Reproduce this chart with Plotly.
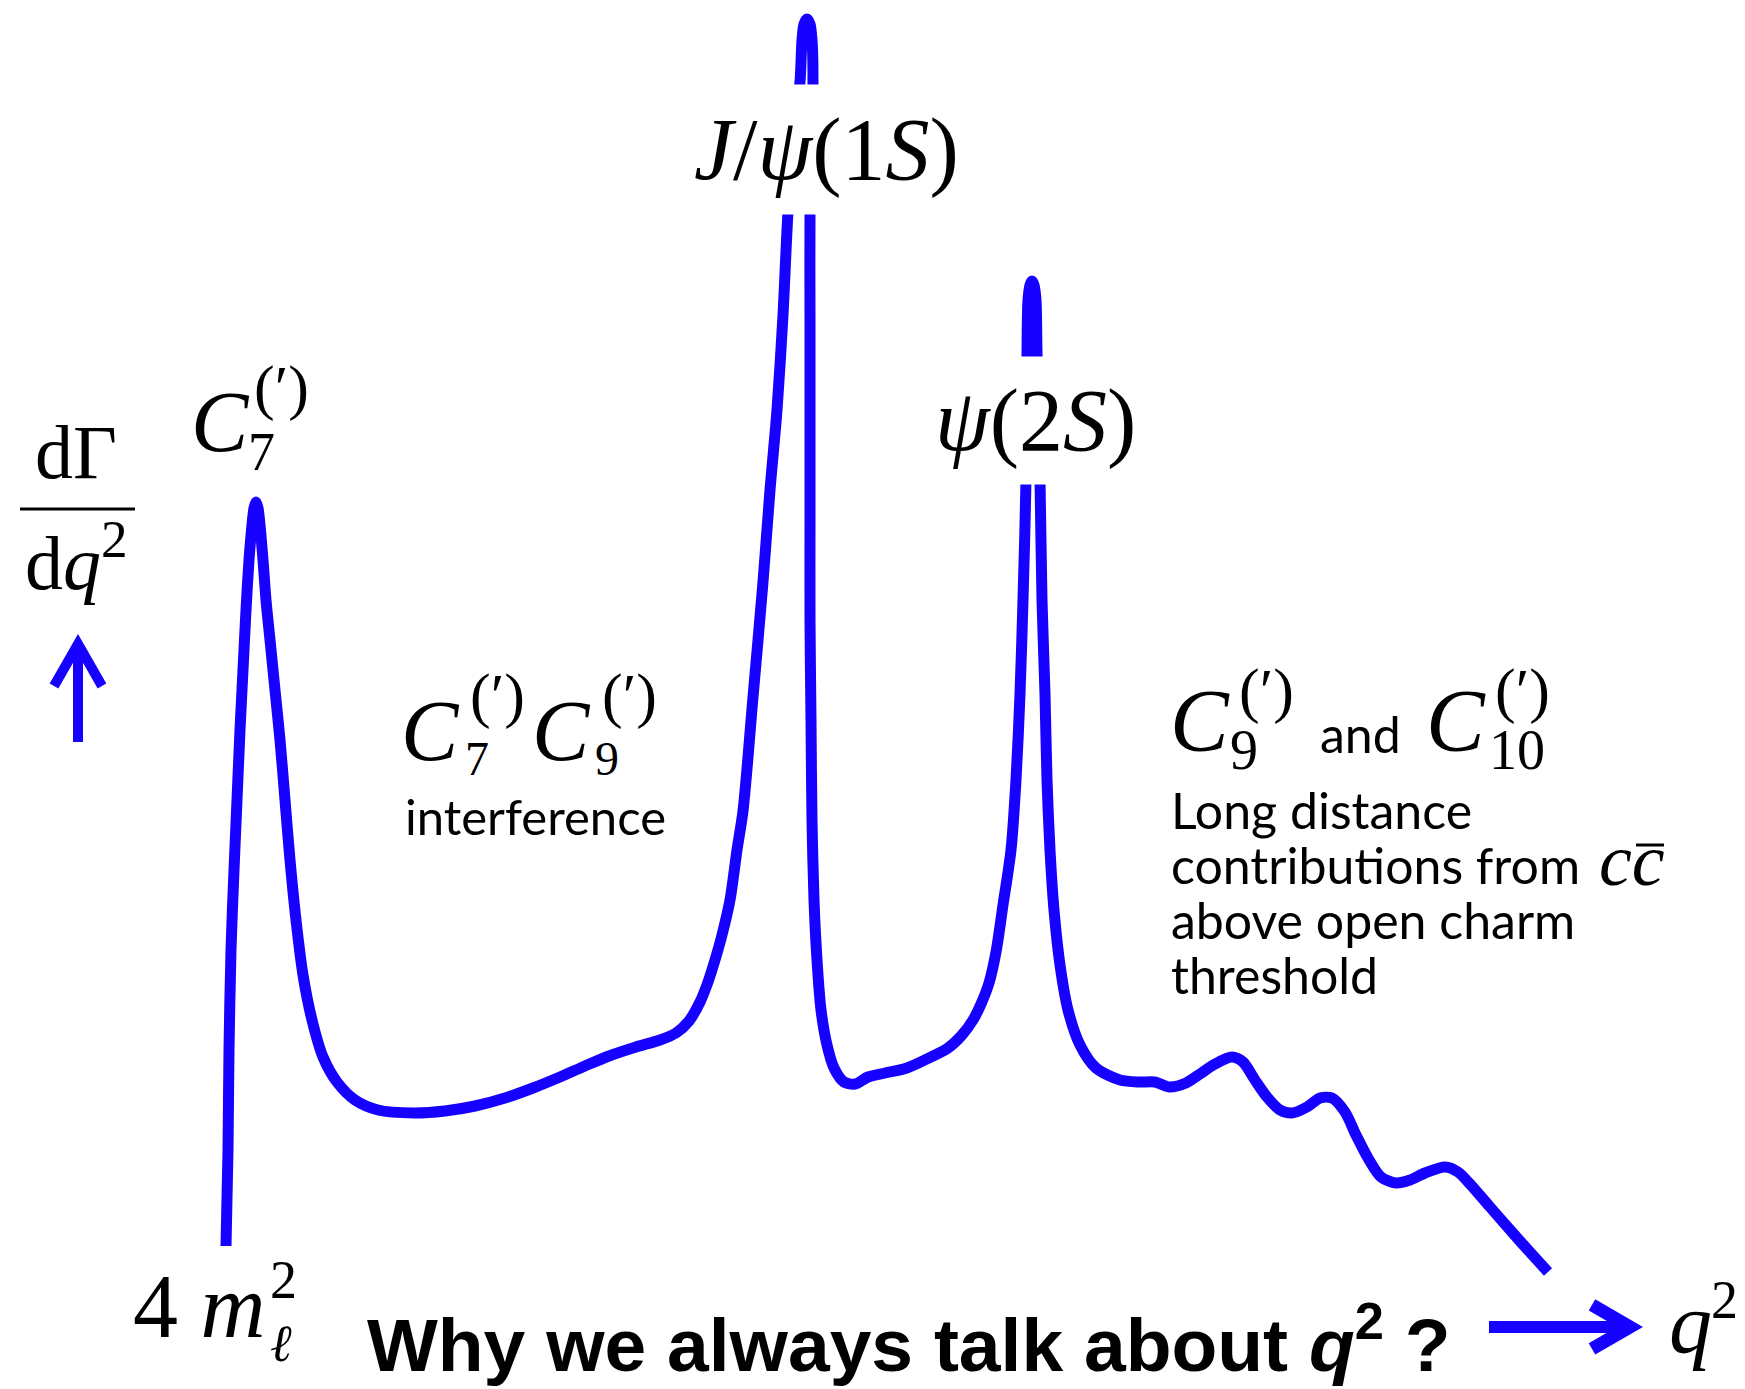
import plotly.graph_objects as go

W, H = 1745, 1389
BLUE = "rgb(22,0,255)"
SERIF = "Liberation Serif"
SANS = "Lato"

# schematic spectrum dGamma/dq2 (arbitrary units)
q2 = [226, 228, 229, 231, 234, 237, 240, 243, 246, 249,
      252, 254, 256, 258, 260, 263, 266, 270, 275, 280,
      285, 290, 296, 303, 312, 323, 337, 355, 378, 414,
      445, 475, 505, 533, 560, 585, 609, 636, 660, 676,
      689, 700, 708, 715, 722, 730, 737, 743, 753, 763,
      770, 777, 783, 788, 795, 800, 802, 804, 807, 810,
      812, 813, 812, 810, 810, 810, 810, 810, 811, 812,
      814, 817, 821, 827, 834, 844, 855, 868, 885, 907,
      929, 948, 962, 973, 981, 989, 996, 1003, 1011, 1016,
      1020, 1023, 1026, 1027, 1028, 1030, 1032, 1034, 1036, 1037,
      1040, 1042, 1045, 1047, 1050, 1054, 1060, 1068, 1080, 1096,
      1120, 1140, 1155, 1169, 1186, 1200, 1215, 1232, 1243, 1255,
      1267, 1280, 1292, 1307, 1320, 1332, 1345, 1356, 1368, 1381,
      1396, 1410, 1425, 1445, 1458, 1470, 1490, 1519, 1548]
rate = [143, 239, 339, 439, 519, 589, 659, 719, 779, 829,
        864, 881, 887, 881, 864, 829, 789, 749, 699, 649,
        589, 529, 469, 414, 369, 332, 307, 289, 279, 276,
        278, 283, 291, 301, 312, 323, 333, 342, 349, 356,
        368, 387, 407, 429, 454, 489, 539, 578, 692, 807,
        899, 979, 1074, 1177, 1269, 1307, 1349, 1365, 1370, 1365,
        1349, 1307, 1269, 1177, 1069, 969, 869, 769, 669, 569,
        489, 429, 379, 344, 321, 307, 305, 312, 316, 321,
        331, 341, 354, 369, 385, 406, 437, 484, 539, 609,
        695, 789, 909, 1037, 1089, 1104, 1108, 1104, 1089, 1037,
        909, 789, 695, 609, 539, 479, 424, 379, 344, 321,
        309, 307, 307, 302, 306, 315, 325, 332, 327, 309,
        292, 279, 276, 282, 291, 291, 277, 254, 231, 212,
        206, 209, 216, 222, 217, 205, 182, 149, 117]

fig = go.Figure()
fig.add_trace(go.Scatter(x=q2, y=rate, mode="lines",
                         line=dict(color=BLUE, width=11, shape="spline", smoothing=0.8),
                         hoverinfo="skip", showlegend=False))


def P(x, y):
    return x / W, 1 - y / H


anns = []


def ann(text, x, y, size, family=SERIF, xanchor="center", yanchor="middle",
        bg=None, pad=0, color="black"):
    px, py = P(x, y)
    d = dict(text=text, x=px, y=py, xref="paper", yref="paper", showarrow=False,
             xanchor=xanchor, yanchor=yanchor,
             font=dict(family=family, size=size, color=color), borderpad=pad)
    if bg:
        d["bgcolor"] = bg
    anns.append(d)


# y-axis label dGamma/dq2
ann("dΓ", 76, 452, 76)
ann("d<i>q</i><sup>2</sup>", 76, 558, 76)

# C7 label near first peak
ann("<i>C</i>", 220, 422, 86)
ann("7", 261, 452, 54)
ann("(′)", 281, 388, 62)

# resonance labels with white background hiding the curve
ann("<i>J</i>/<i>ψ</i>(1<i>S</i>)", 826, 149, 88, bg="white", pad=16)
ann("<i>ψ</i>(2<i>S</i>)", 1035, 421, 88, bg="white", pad=15)

# C7 C9 interference
ann("<i>C</i>", 430, 731, 86)
ann("7", 477, 758, 48)
ann("(′)", 498, 696, 62)
ann("<i>C</i>", 561, 731, 86)
ann("9", 607, 758, 48)
ann("(′)", 629, 696, 62)
ann("interference", 535, 816, 49, family=SANS)

# C9 and C10
ann("<i>C</i>", 1200, 720, 88)
ann("9", 1244, 750, 56)
ann("(′)", 1266, 690, 62)
ann("and", 1360, 734, 50, family=SANS)
ann("<i>C</i>", 1456, 720, 88)
ann("10", 1517, 750, 56)
ann("(′)", 1522, 690, 62)

# text block
for i, line in enumerate(["Long distance", "contributions from", "above open charm", "threshold"]):
    ann(line, 1170, 810 + 55 * i, 50, family=SANS, xanchor="left")
ann("<i>cc</i>", 1598, 860, 74, xanchor="left")

# 4 m_l^2
ann("4 <i>m</i>", 132, 1306, 90, xanchor="left")
ann("<i>ℓ</i>", 281, 1343, 52)
ann("2", 283, 1280, 54)

# q^2 at axis end
ann("<i>q</i>", 1690, 1323, 86)
ann("2", 1724, 1300, 54)

# title
ann("<b>Why we always talk about <i>q</i><sup>2</sup> ?</b>", 366, 1339, 75,
    family="Liberation Sans", xanchor="left")


def path(pts):
    s = ""
    for i, (x, y) in enumerate(pts):
        px, py = P(x, y)
        s += ("M" if i == 0 else "L") + f" {px:.5f} {py:.5f} "
    return s


shapes = [
    # fraction bar
    dict(type="path", xref="paper", yref="paper", path=path([(20, 509), (135, 509)]),
         line=dict(color="black", width=3)),
    # overline on c
    dict(type="path", xref="paper", yref="paper", path=path([(1636, 845), (1664, 845)]),
         line=dict(color="black", width=3)),
    # up arrow
    dict(type="path", xref="paper", yref="paper", path=path([(78, 742), (78, 646)]),
         line=dict(color=BLUE, width=10)),
    dict(type="path", xref="paper", yref="paper", path=path([(54, 686), (78, 644), (102, 686)]),
         line=dict(color=BLUE, width=10)),
    # right arrow
    dict(type="path", xref="paper", yref="paper", path=path([(1489, 1327), (1622, 1327)]),
         line=dict(color=BLUE, width=12)),
    dict(type="path", xref="paper", yref="paper", path=path([(1592, 1305), (1630, 1327), (1592, 1349)]),
         line=dict(color=BLUE, width=13)),
]

fig.update_layout(
    width=W, height=H, margin=dict(l=0, r=0, t=0, b=0),
    paper_bgcolor="white", plot_bgcolor="white",
    xaxis=dict(visible=False, range=[0, W], fixedrange=True),
    yaxis=dict(visible=False, range=[0, H], fixedrange=True),
    annotations=anns, shapes=shapes, showlegend=False,
)

fig.write_html("out.html", config={"displayModeBar": False})
